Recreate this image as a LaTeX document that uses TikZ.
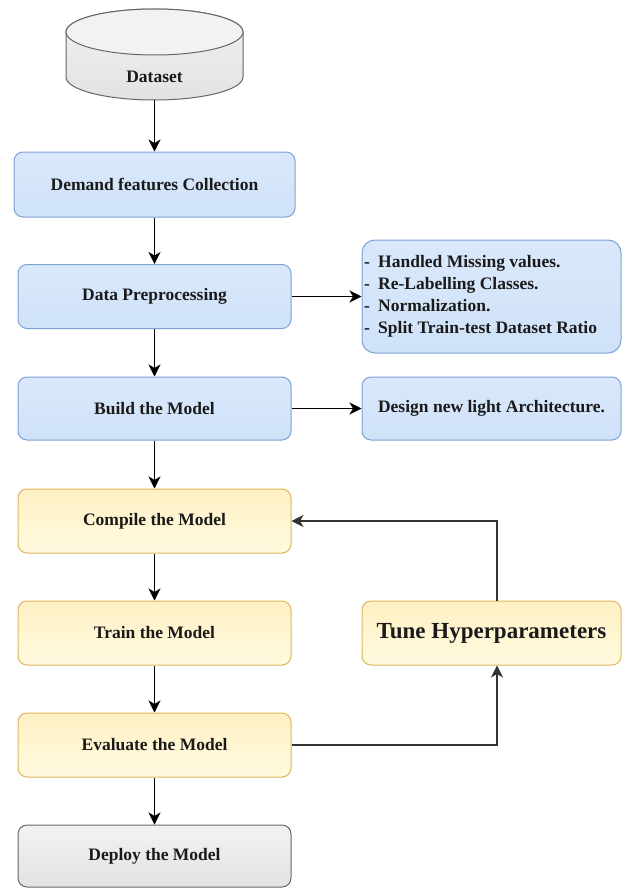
\documentclass[tikz,border=0pt]{standalone}
\usepackage{fontspec}
\setmainfont{Liberation Serif}
\usetikzlibrary{arrows.meta}
\definecolor{blueFill}{HTML}{DAE8FC}
\definecolor{blueFillB}{HTML}{CFE2F8}
\definecolor{blueLine}{HTML}{7EA1D6}
\definecolor{yelFill}{HTML}{FFF0C4}
\definecolor{yelFillB}{HTML}{FFFBE0}
\definecolor{yelLine}{HTML}{D9B75C}
\definecolor{greyFill}{HTML}{F2F2F2}
\definecolor{greyFillB}{HTML}{E2E2E2}
\definecolor{greyLine}{HTML}{666666}
\definecolor{txt}{HTML}{1A1A1A}
\definecolor{wire}{HTML}{333333}
\begin{document}
\begin{tikzpicture}[x=1pt,y=-1pt,
  box/.style={rectangle, rounded corners=9pt, line width=1pt, minimum width=273pt,
    minimum height=64pt, inner sep=0pt, text=txt,
    font=\fontsize{17.5}{22}\selectfont\bfseries},
  bluebox/.style={box, draw=blueLine, top color=blueFill, bottom color=blueFillB},
  yelbox/.style={box, draw=yelLine, top color=yelFill, bottom color=yelFillB},
  greybox/.style={box, draw=greyLine, top color=greyFill, bottom color=greyFillB},
  flow/.style={line width=1.4pt, draw=black, -{Stealth[length=12pt,width=12pt,inset=3.5pt]}},
  loop/.style={line width=1.4pt, draw=wire, -{Stealth[length=12pt,width=12pt,inset=3.5pt]}}]
\useasboundingbox (0,0) rectangle (622,888);

% dataset cylinder
\path[draw=greyLine, line width=1pt, top color=greyFill, bottom color=greyFillB]
  (66,32) -- (66,77) arc[start angle=180, end angle=360, x radius=88.5pt, y radius=23pt]
  -- (243,32) arc[start angle=0, end angle=180, x radius=88.5pt, y radius=23pt] -- cycle;
\draw[greyLine, line width=1pt, fill=greyFill]
  (154.5,32) ellipse[x radius=88.5pt, y radius=23pt];
\node[inner sep=0pt, minimum width=177pt, minimum height=91pt] (data) at (154.5,54.5) {};
\node[text=txt, font=\fontsize{17.5}{22}\selectfont\bfseries] (datalbl) at (154.5,77) {Dataset};

% main pipeline
\node[bluebox, minimum width=281pt, minimum height=65pt] (collect) at (154.5,184.5) {Demand features Collection};
\node[bluebox] (prep) at (154.5,296.5) {Data Preprocessing};
\node[bluebox, minimum height=63pt] (build) at (154.5,408.5) {Build the Model};
\node[yelbox] (compile) at (154.5,521) {Compile the Model};
\node[yelbox] (train) at (154.5,633) {Train the Model};
\node[yelbox] (eval) at (154.5,745) {Evaluate the Model};
\node[greybox, minimum height=62pt] (deploy) at (154.5,856) {Deploy the Model};

% side boxes
\node[bluebox, rounded corners=13pt, minimum width=259pt, minimum height=113pt] (steps) at (491.5,296.5) {};
\node[anchor=west, align=left, inner sep=0pt, text=txt,
  font=\fontsize{17.5}{22}\selectfont\bfseries] (stepstxt) at (364,296.5)
  {\makebox[14pt][l]{-}Handled Missing values.\\
   \makebox[14pt][l]{-}Re-Labelling Classes.\\
   \makebox[14pt][l]{-}Normalization.\\
   \makebox[14pt][l]{-}Split Train-test Dataset Ratio};
\node[bluebox, minimum width=259pt, minimum height=63pt] (arch) at (491.5,408.5) {Design new light Architecture.};
\node[yelbox, minimum width=259pt, font=\fontsize{23}{26}\selectfont\bfseries] (tune) at (491.5,633) {Tune Hyperparameters};

% connectors
\draw[flow] (data) -- (collect);
\draw[flow] (collect) -- (prep);
\draw[flow] (prep) -- (build);
\draw[flow] (build) -- (compile);
\draw[flow] (compile) -- (train);
\draw[flow] (train) -- (eval);
\draw[flow] (eval) -- (deploy);
\draw[flow] (prep) -- (steps);
\draw[flow] (build) -- (arch);
\draw[loop] (eval.east) -| ([xshift=5.5pt]tune.south);
\draw[loop] ([xshift=5.5pt]tune.north) |- (compile.east);
\end{tikzpicture}
\end{document}
